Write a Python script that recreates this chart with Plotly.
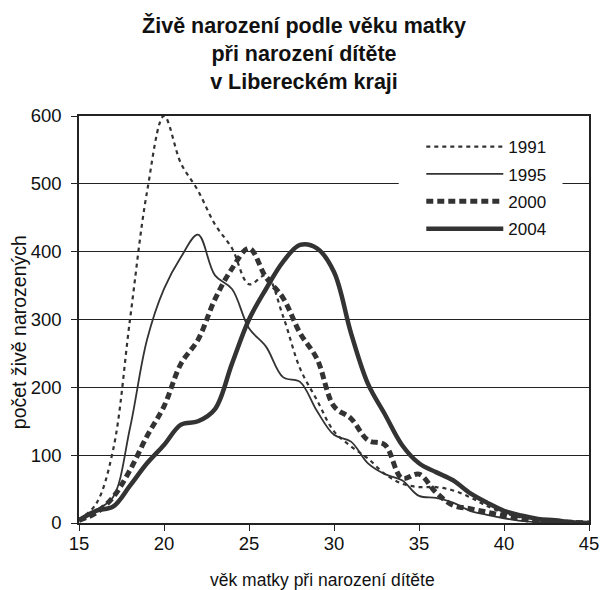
import plotly.graph_objects as go

ages = list(range(15, 46))

births_1991 = [5, 28, 107, 300, 488, 600, 530, 490, 440, 405, 352, 365, 305, 228, 181,
               135, 113, 95, 72, 58, 53, 53, 48, 38, 25, 15, 8, 3, 1, 0, 0]
births_1995 = [4, 19, 38, 140, 270, 345, 392, 425, 365, 345, 287, 260, 215, 208, 165,
               130, 120, 88, 72, 63, 40, 37, 30, 18, 12, 7, 3, 1, 0, 0, 0]
births_2000 = [4, 15, 38, 78, 128, 172, 235, 270, 330, 375, 405, 362, 332, 280, 242,
               172, 154, 122, 115, 66, 72, 45, 26, 21, 16, 11, 6, 3, 2, 1, 0]
births_2004 = [4, 18, 24, 55, 88, 115, 145, 150, 168, 235, 300, 345, 385, 410, 405,
               370, 280, 205, 160, 115, 88, 75, 63, 44, 30, 18, 11, 6, 4, 1, 0]

series_names = ["1991", "1995", "2000", "2004"]
series_values = [births_1991, births_1995, births_2000, births_2004]

x_ticks = [15, 20, 25, 30, 35, 40, 45]
y_ticks = [0, 100, 200, 300, 400, 500, 600]

title_text = "Živě narození podle věku matky<br>při narození dítěte<br>v Libereckém kraji"
x_title = "věk matky při narození dítěte"
y_title = "počet živě narozených"

styles = [
    dict(width=2.2, dash="4px,4px"),
    dict(width=1.8, dash="solid"),
    dict(width=5, dash="7px,4px"),
    dict(width=4.5, dash="solid"),
]

FONT = "Liberation Sans, Arial, sans-serif"
LINE_COLOR = "#333333"

# The page body adds an 8px offset; the figure is sized to fill the window.
W, H = 602, 582
PL, PR, PT, PB = 71, 591, 108, 515  # plot area edges in figure pixels


def px_to_paper(sx, sy):
    fx, fy = sx - 8, sy - 8
    return (fx - PL) / (PR - PL), (PB - fy) / (PB - PT)


fig = go.Figure()
for name, vals, st in zip(series_names, series_values, styles):
    fig.add_trace(go.Scatter(
        x=ages, y=vals, name=name, mode="lines",
        line=dict(color=LINE_COLOR, width=st["width"], dash=st["dash"],
                  shape="spline", smoothing=1.0),
        legendgroup=name,
    ))

xt_x, xt_y = px_to_paper(327, 580)
yt_x, yt_y = px_to_paper(18, 332)
lg_x, lg_y = px_to_paper(428, 129)
gb_x0, _ = px_to_paper(405, 0)
gb_x1, _ = px_to_paper(572, 0)

fig.update_layout(
    width=W, height=H,
    margin=dict(l=PL, r=W - PR, t=PT, b=H - PB),
    paper_bgcolor="white", plot_bgcolor="white",
    font=dict(family=FONT, size=17, color="#111"),
    title=dict(text="<b>" + title_text + "</b>", x=(304 - 8) / W, xanchor="center",
               y=0.957, yanchor="top", yref="container",
               font=dict(family=FONT, size=21.5, color="#111")),
    showlegend=True,
    legend=dict(x=lg_x, xanchor="left", y=lg_y, yanchor="top",
                bgcolor="white", borderwidth=0, itemwidth=77,
                traceorder="grouped", tracegroupgap=2.3,
                font=dict(family=FONT, size=17, color="#111")),
    xaxis=dict(range=[15, 45], tickvals=x_ticks, ticktext=[str(v) for v in x_ticks],
               showgrid=False, zeroline=False, showline=True, mirror=True,
               linecolor="#222", linewidth=1.5, ticks="outside", ticklen=6,
               tickcolor="#222", tickfont=dict(size=18.5), ticklabelstandoff=-3),
    yaxis=dict(range=[0, 600], tickvals=y_ticks, showgrid=True, gridcolor="#222",
               gridwidth=1, zeroline=False, showline=True, mirror=True,
               linecolor="#222", linewidth=1.5, ticks="outside", ticklen=6,
               tickcolor="#222", tickfont=dict(size=18.5), ticklabelstandoff=6),
    shapes=[
        # legend box background interrupts the 500 gridline
        dict(type="rect", xref="paper", yref="y", x0=gb_x0, x1=gb_x1, y0=493, y1=507,
             fillcolor="white", line=dict(width=0), layer="above"),
    ],
    annotations=[
        dict(text=x_title, x=xt_x, y=xt_y, xref="paper", yref="paper", showarrow=False,
             xanchor="center", yanchor="middle",
             font=dict(family=FONT, size=17.5, color="#111")),
        dict(text=y_title, x=yt_x, y=yt_y, xref="paper", yref="paper", showarrow=False,
             xanchor="center", yanchor="middle", textangle=-90,
             font=dict(family=FONT, size=19.5, color="#111")),
    ],
)

fig.write_html("out.html")
